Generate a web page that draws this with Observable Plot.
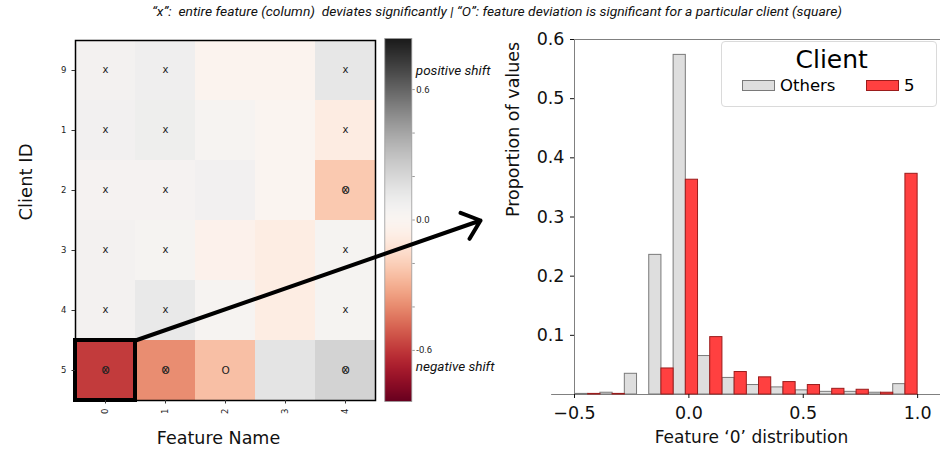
<!DOCTYPE html>
<html>
<head>
<meta charset="utf-8">
<script src="https://cdn.jsdelivr.net/npm/d3@7"></script>
<script src="https://cdn.jsdelivr.net/npm/@observablehq/plot@0.6"></script>
<style>
  body { margin: 0; background: #fff; }
  #fig { position: relative; width: 940px; height: 452px; overflow: hidden; font-family: "DejaVu Sans", sans-serif; background: #fff; }
  #fig > svg, #fig > div { position: absolute; }
  .legend { left: 721px; top: 41px; width: 216px; height: 66px; box-sizing: border-box; border: 1px solid #dadada; border-radius: 4px; background: rgba(255,255,255,0.8); }
  .legend > div { position: absolute; white-space: nowrap; line-height: 1; }
  .legend .patch { box-sizing: border-box; width: 33px; height: 11px; border: 1px solid; }
</style>
</head>
<body>
<div id="fig"></div>
<script>
// ---- Heatmap: mean shift of each feature per client ----
const features = ["0", "1", "2", "3", "4"];
const clients = ["9", "1", "2", "3", "4", "5"];
const shiftClient9 = [0.059, 0.08, -0.02, -0.02, 0.124];
const shiftClient1 = [0.065, 0.086, 0.032, -0.005, -0.08];
const shiftClient2 = [0.043, 0.043, 0.065, -0.01, -0.22];
const shiftClient3 = [0.054, 0.038, -0.04, -0.075, 0.038];
const shiftClient4 = [0.059, 0.113, 0.032, -0.075, 0.038];
const shiftClient5 = [-0.59, -0.39, -0.25, 0.14, 0.224];
const shiftRows = [shiftClient9, shiftClient1, shiftClient2, shiftClient3, shiftClient4, shiftClient5];

// columns whose whole feature deviates ("x"), cells deviating for one client ("O")
const flaggedColumns = ["0", "1", "4"];
const flaggedCells = [["0", "5"], ["1", "5"], ["2", "5"], ["4", "5"], ["4", "2"]];
const focusCell = ["0", "5"];

// colour bar
const shiftLimit = 0.835;
const colorbarTicks = [-0.6, -0.4, -0.2, 0, 0.2, 0.4, 0.6];
const colorbarLabelled = [-0.6, 0, 0.6];

// ---- Histogram of feature '0': client 5 vs all other clients ----
const binEdges = [-0.6, -0.4933, -0.3867, -0.28, -0.1733, -0.0667, 0.04, 0.1467, 0.2533, 0.36, 0.4667, 0.5733, 0.68, 0.7867, 0.8933, 1.0];
const othersShare = [0, 0.001, 0.003, 0.035, 0.236, 0.574, 0.065, 0.028, 0.016, 0.012, 0.007, 0.0045, 0.0045, 0.003, 0.0175];
const client5Share = [0, 0.001, 0.001, 0, 0.044, 0.363, 0.097, 0.038, 0.029, 0.021, 0.016, 0.0096, 0.008, 0.003, 0.373];
const histTicksX = [-0.5, 0, 0.5, 1.0];
const histTicksY = [0.1, 0.2, 0.3, 0.4, 0.5, 0.6];

const caption = "\u201Cx\u201D:  entire feature (column)  deviates significantly | \u201CO\u201D: feature deviation is significant for a particular client (square)";

// ---- tables for the marks ----
const cells = clients.flatMap((c, i) => features.map((f, j) => ({client: c, feature: f, value: shiftRows[i][j]})));
const crossMarks = cells.filter(d => flaggedColumns.includes(d.feature));
const circleMarks = flaggedCells.map(([f, c]) => ({feature: f, client: c}));
const focus = [{feature: focusCell[0], client: focusCell[1]}];

const bins = othersShare.map((v, i) => ({
  a: binEdges[i],
  b: binEdges[i + 1],
  m: (binEdges[i] + binEdges[i + 1]) / 2,
  others: v,
  client5: client5Share[i]
}));

const fig = document.getElementById("fig");
const place = (el, left, top) => { el.style.left = left + "px"; el.style.top = top + "px"; fig.appendChild(el); return el; };

// caption line
const cap = d3.select(fig).append("svg").attr("width", 940).attr("height", 26).style("left", "0px").style("top", "0px");
cap.append("text")
  .attr("x", 497).attr("y", 16)
  .attr("text-anchor", "middle")
  .attr("textLength", 690).attr("lengthAdjust", "spacingAndGlyphs")
  .attr("font-family", "Roboto, sans-serif").attr("font-style", "italic").attr("font-size", 12.5)
  .attr("fill", "#111")
  .style("white-space", "pre")
  .text(caption);

// heatmap
const heat = Plot.plot({
  width: 400, height: 452,
  marginLeft: 75, marginRight: 25, marginTop: 40, marginBottom: 52,
  style: {fontFamily: "DejaVu Sans", fontSize: "8.5px", color: "#222", background: "transparent"},
  x: {domain: features, padding: 0},
  y: {domain: clients, padding: 0},
  color: {type: "linear", domain: [-shiftLimit, shiftLimit], scheme: "rdgy"},
  marks: [
    Plot.cell(cells, {x: "feature", y: "client", fill: "value", inset: 0}),
    Plot.text(crossMarks, {x: "feature", y: "client", text: () => "x", fontSize: 10, fill: "#222", dy: -1}),
    Plot.text(circleMarks, {x: "feature", y: "client", text: () => "O", fontSize: 10.5, fill: "#222"}),
    Plot.frame({stroke: "black", strokeWidth: 1.5}),
    Plot.cell(focus, {x: "feature", y: "client", fill: "none", stroke: "black", strokeWidth: 4, inset: 0}),
    Plot.axisX({tickRotate: -90, tickSize: 3.5, tickPadding: 4.5, label: null, stroke: "#333"}),
    Plot.axisY({tickSize: 3.5, tickPadding: 5.5, label: null, stroke: "#333"}),
    Plot.text(["Feature Name"], {frameAnchor: "bottom", lineAnchor: "middle", dy: 38, dx: -7, fontSize: 17.5, fill: "#111"}),
    Plot.text(["Client ID"], {frameAnchor: "left", lineAnchor: "middle", dx: -49, rotate: -90, fontSize: 18, fill: "#111"})
  ]
});
place(heat, 0, 0);

// colour bar
const cbar = Plot.plot({
  width: 140, height: 452,
  marginLeft: 14.3, marginRight: 98.7, marginTop: 38, marginBottom: 51,
  style: {fontFamily: "Roboto", fontSize: "9.5px", color: "#222", background: "transparent"},
  x: {domain: [0, 1], axis: null},
  y: {domain: [-shiftLimit, shiftLimit]},
  color: {type: "linear", domain: [-shiftLimit, shiftLimit], scheme: "rdgy"},
  marks: [
    Plot.raster({fill: (x, y) => y, x1: 0, x2: 1, y1: -shiftLimit, y2: shiftLimit, pixelSize: 1}),
    Plot.frame({stroke: "#999", strokeWidth: 0.8}),
    Plot.axisY({anchor: "right", ticks: colorbarTicks, tickSize: 2.5, tickPadding: 2, stroke: "#999", fontSize: 9.5, fill: "#222",
      tickFormat: d => colorbarLabelled.some(v => Math.abs(v - d) < 1e-9) ? d.toFixed(1) : "", label: null}),
    Plot.text(["positive shift"], {frameAnchor: "top-right", lineAnchor: "middle", dx: 4, dy: 32, textAnchor: "start", fontStyle: "italic", fontSize: 13.5, fill: "#111"}),
    Plot.text(["negative shift"], {frameAnchor: "bottom-right", lineAnchor: "middle", dx: 4, dy: -35, textAnchor: "start", fontStyle: "italic", fontSize: 13.5, fill: "#111"})
  ]
});
place(cbar, 370, 0);

// histogram
const histLeft = 480;
const hist = Plot.plot({
  width: 460, height: 452,
  marginLeft: 94, marginRight: 0, marginTop: 39, marginBottom: 58,
  style: {fontFamily: "DejaVu Sans", fontSize: "17.5px", color: "#111", background: "transparent"},
  x: {domain: [-0.5, 1.1]},
  y: {domain: [0, 0.6]},
  marks: [
    Plot.ruleY([0], {x1: binEdges[0], x2: 1.1, stroke: "#808080"}),
    Plot.rect(bins, {x1: "a", x2: "m", y1: 0, y2: "others", fill: "#dedede", stroke: "#7a7a7a", strokeWidth: 1}),
    Plot.rect(bins, {x1: "m", x2: "b", y1: 0, y2: "client5", fill: "#ff4040", stroke: "#9b1c1c", strokeWidth: 1}),
    Plot.ruleX([-0.5], {y1: 0, y2: 0.6, stroke: "#808080"}),
    Plot.ruleY([0.6], {x1: -0.5, x2: 1.1, stroke: "#808080"}),
    Plot.axisY({ticks: histTicksY, tickSize: 4, tickPadding: 6, tickFormat: d3.format(".1f"), label: null}),
    Plot.axisX({ticks: histTicksX, tickSize: 4, tickPadding: 8, tickFormat: d3.format(".1f"), label: null}),
    Plot.text(["Proportion of values"], {frameAnchor: "left", lineAnchor: "middle", dx: -61, rotate: -90, fontSize: 17.5}),
    Plot.text(["Feature \u20180\u2019 distribution"], {frameAnchor: "bottom", lineAnchor: "middle", dy: 43, dx: -6, fontSize: 17}),
  ]
});
place(hist, histLeft, 0);

// legend
const legend = document.createElement("div");
legend.className = "legend";
legend.innerHTML = `
  <div style="left:109.7px;top:5px;font-size:25px;transform:translateX(-50%)">Client</div>
  <div class="patch" style="left:20px;top:38.3px;background:#dedede;border-color:#7a7a7a"></div>
  <div style="left:58px;top:36px;font-size:16.5px">Others</div>
  <div class="patch" style="left:144px;top:38.3px;background:#ff4040;border-color:#9b1c1c"></div>
  <div style="left:182px;top:36px;font-size:16.5px">5</div>`;
place(legend, 721, 41);

// arrow from the focused heatmap cell to the histogram panel
const hx = heat.scale("x"), hy = heat.scale("y");
const link = [{
  x1: hx.apply(focusCell[0]) + hx.bandwidth,
  y1: hy.apply(focusCell[1]),
  x2: histLeft,
  y2: (hy.apply(clients[0]) + hy.apply(clients[clients.length - 1]) + hy.bandwidth) / 2
}];
const overlay = Plot.plot({
  width: 940, height: 452, margin: 0,
  style: {background: "transparent", pointerEvents: "none"},
  x: {type: "identity", axis: null},
  y: {type: "identity", axis: null},
  marks: [
    Plot.arrow(link, {x1: "x1", y1: "y1", x2: "x2", y2: "y2", stroke: "black", strokeWidth: 4, headAngle: 80, headLength: 8})
  ]
});
place(overlay, 0, 0);
</script>
</body>
</html>
